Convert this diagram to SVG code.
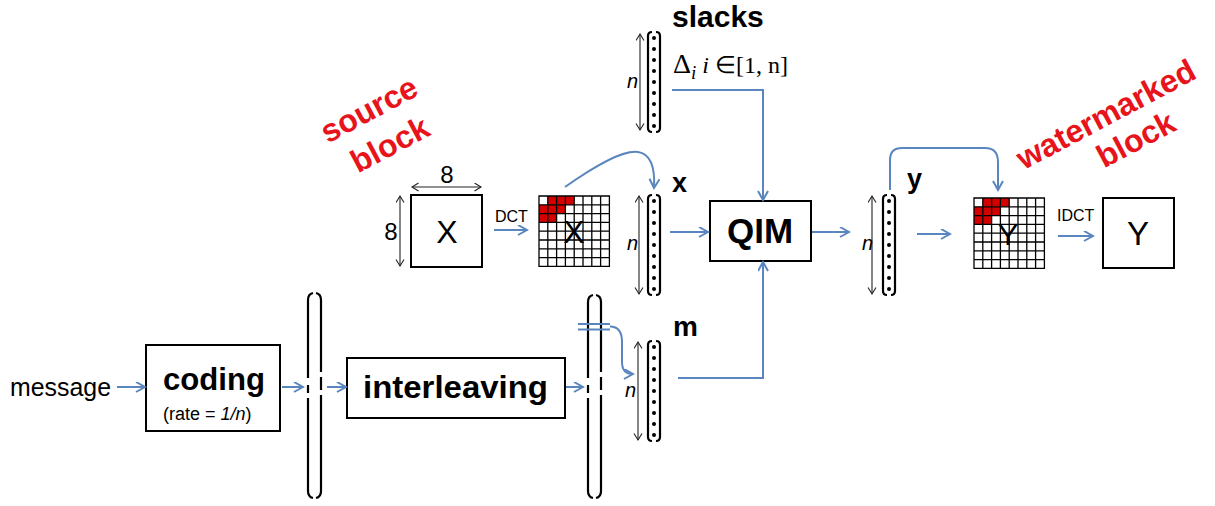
<svg xmlns="http://www.w3.org/2000/svg" width="1215" height="506" viewBox="0 0 1215 506">
<style>
.box{fill:#fff;stroke:#000;stroke-width:2}
.br{fill:none;stroke:#000;stroke-width:2.2}
.con{fill:none;stroke:#5a86c0;stroke-width:2}
.dim{fill:none;stroke:#222;stroke-width:1.1}
.t{font-family:"Liberation Sans",Arial,sans-serif;fill:#000}
.b{font-weight:bold}
.red{font-family:"Liberation Sans",Arial,sans-serif;font-weight:bold;fill:#e8141c;font-size:32px}
.it{font-style:italic}
.grid{fill:none;stroke:#000;stroke-width:1.3}
.cell{fill:#d40000}
.dot{fill:#000}
</style>
<defs>
<marker id="arr" markerUnits="userSpaceOnUse" markerWidth="12" markerHeight="12" refX="10" refY="5.5" orient="auto">
<path d="M1,0.5 L10,5.5 L1,10.5" fill="none" stroke="#5a86c0" stroke-width="2"/>
</marker>
<marker id="da" markerUnits="userSpaceOnUse" markerWidth="10" markerHeight="10" refX="7" refY="4.5" orient="auto-start-reverse">
<path d="M0.5,0.5 L7,4.5 L0.5,8.5" fill="none" stroke="#222" stroke-width="1.1"/>
</marker>
<g id="dots9">
<circle class="dot" cx="0" cy="0" r="2"/><circle class="dot" cx="0" cy="11" r="2"/><circle class="dot" cx="0" cy="22" r="2"/><circle class="dot" cx="0" cy="33" r="2"/><circle class="dot" cx="0" cy="44" r="2"/><circle class="dot" cx="0" cy="55" r="2"/><circle class="dot" cx="0" cy="66" r="2"/><circle class="dot" cx="0" cy="77" r="2"/><circle class="dot" cx="0" cy="88" r="2"/>
</g>
<g id="vec">
<path class="br" d="M4,0 Q0,0 0,4 V96 Q0,100 4,100 M8,0 Q12,0 12,4 V96 Q12,100 8,100"/>
<use href="#dots9" x="6" y="6"/>
</g>
<g id="grid8">
<rect class="cell" x="8.8" y="0" width="26.4" height="8.8"/>
<rect class="cell" x="0" y="8.8" width="26.4" height="8.8"/>
<rect class="cell" x="0" y="17.6" width="17.6" height="8.8"/>
<path class="grid" d="M0,0 H70.4 V70.4 H0 Z M8.8,0 V70.4 M17.6,0 V70.4 M26.4,0 V70.4 M35.2,0 V70.4 M44,0 V70.4 M52.8,0 V70.4 M61.6,0 V70.4 M0,8.8 H70.4 M0,17.6 H70.4 M0,26.4 H70.4 M0,35.2 H70.4 M0,44 H70.4 M0,52.8 H70.4 M0,61.6 H70.4"/>
</g>
</defs>
<rect width="1215" height="506" fill="#fff"/>

<g id="message"><text class="t" x="10" y="396" font-size="26" textLength="101" lengthAdjust="spacingAndGlyphs">message</text></g>

<g id="coding">
<rect class="box" x="146" y="345" width="134" height="86"/>
<text class="t b" x="163" y="390" font-size="31" textLength="102" lengthAdjust="spacingAndGlyphs">coding</text>
<text class="t" x="163" y="420" font-size="18">(rate = <tspan class="it">1/n</tspan>)</text>
</g>

<g id="buffer1">
<path class="br" d="M313,293 Q308,294 308,300 V378 M308,385 V393 M308,398 V491 Q308,497 313,498"/>
<path class="br" d="M316,293 Q321,294 321,300 V372 M321,377 V390 M321,395 V491 Q321,497 316,498"/>
</g>

<g id="interleaving">
<rect class="box" x="347" y="358" width="218" height="60"/>
<text class="t b" x="363" y="398" font-size="31" textLength="185" lengthAdjust="spacingAndGlyphs">interleaving</text>
</g>

<g id="buffer2">
<path class="br" d="M593,295 Q588,296 588,302 V378 M588,385 V393 M588,398 V491 Q588,497 593,498"/>
<path class="br" d="M596,295 Q601,296 601,302 V372 M601,377 V390 M601,395 V491 Q601,497 596,498"/>
</g>

<g id="sourceblock">
<rect class="box" x="411" y="195" width="71" height="72"/>
<text class="t" x="447" y="243" font-size="32" text-anchor="middle">X</text>
<text class="t" x="447" y="183" font-size="24" text-anchor="middle">8</text>
<text class="t" x="391" y="240" font-size="24" text-anchor="middle">8</text>
<path class="dim" d="M412,187 H481" marker-start="url(#da)" marker-end="url(#da)"/>
<path class="dim" d="M400,196 V266" marker-start="url(#da)" marker-end="url(#da)"/>
</g>
<text class="red" transform="translate(374,119) rotate(-28)" text-anchor="middle">source</text>
<text class="red" transform="translate(395,154) rotate(-28)" text-anchor="middle">block</text>

<g id="dctgrid">
<use href="#grid8" x="539" y="196"/>
<text class="t" x="574" y="243" font-size="32" text-anchor="middle">X</text>
</g>
<text class="t" x="495" y="222" font-size="16">DCT</text>

<g id="slacks">
<text class="t b" x="672" y="27" font-size="30">slacks</text>
<use href="#vec" x="648" y="32"/>
<path class="dim" d="M640,34 V130" marker-start="url(#da)" marker-end="url(#da)"/>
<text class="t it" x="627" y="88" font-size="20">n</text>
<text font-family="'Liberation Serif','Times New Roman',serif" font-size="28" x="673" y="73">Δ<tspan class="it" font-size="19" dy="6">i</tspan><tspan font-size="24" dy="-6"><tspan class="it"> i</tspan> ∈[1, n]</tspan></text>
</g>

<g id="xvec">
<use href="#vec" x="648" y="195"/>
<path class="dim" d="M639,196 V294" marker-start="url(#da)" marker-end="url(#da)"/>
<text class="t it" x="627" y="250" font-size="20">n</text>
<text class="t b" x="672" y="192" font-size="27">x</text>
</g>

<g id="mvec">
<use href="#vec" x="648" y="341"/>
<path class="dim" d="M638,342 V440" marker-start="url(#da)" marker-end="url(#da)"/>
<text class="t it" x="625" y="397" font-size="20">n</text>
<text class="t b" x="673" y="336" font-size="28">m</text>
</g>

<g id="qim">
<rect class="box" x="710" y="201" width="101" height="60"/>
<text class="t b" x="760" y="243" font-size="35" text-anchor="middle">QIM</text>
</g>

<g id="yvec">
<use href="#vec" x="883" y="195"/>
<path class="dim" d="M872,196 V294" marker-start="url(#da)" marker-end="url(#da)"/>
<text class="t it" x="862" y="250" font-size="20">n</text>
<text class="t b" x="907" y="188" font-size="27">y</text>
</g>

<g id="idctgrid">
<use href="#grid8" x="974" y="198"/>
<text class="t" x="1008" y="245" font-size="30" text-anchor="middle">Y</text>
</g>
<text class="t" x="1057" y="221" font-size="16">IDCT</text>

<g id="wmblock">
<rect class="box" x="1103" y="198" width="71" height="70"/>
<text class="t" x="1138" y="245" font-size="33" text-anchor="middle">Y</text>
</g>
<text class="red" font-size="33" transform="translate(1111,124) rotate(-28)" text-anchor="middle">watermarked</text>
<text class="red" font-size="33" transform="translate(1141,149) rotate(-28)" text-anchor="middle">block</text>

<g id="connectors">
<path class="con" d="M117,387 H145" marker-end="url(#arr)"/>
<path class="con" d="M282,387 H303" marker-end="url(#arr)"/>
<path class="con" d="M327,387 H346" marker-end="url(#arr)"/>
<path class="con" d="M566,387 H583" marker-end="url(#arr)"/>
<path class="con" d="M578,324 H610 M578,329.5 H610"/>
<path class="con" d="M610,326.5 C618,326.5 622,332 622,342 V362 Q622,374 633,374" marker-end="url(#arr)"/>
<path class="con" d="M494,230 H527" marker-end="url(#arr)"/>
<path class="con" d="M565,187 C595,166 622,150 638,152 C652,154 655,170 654,188" marker-end="url(#arr)"/>
<path class="con" d="M670,232 H708" marker-end="url(#arr)"/>
<path class="con" d="M672,90 H763 V200" marker-end="url(#arr)"/>
<path class="con" d="M678,378 H763 V262" marker-end="url(#arr)"/>
<path class="con" d="M812,232 H849" marker-end="url(#arr)"/>
<path class="con" d="M917,234 H950" marker-end="url(#arr)"/>
<path class="con" d="M890,190 V160 Q890,148 902,148 H985 Q998,148 998,162 V190" marker-end="url(#arr)"/>
<path class="con" d="M1058,236 H1093" marker-end="url(#arr)"/>
</g>
</svg>
